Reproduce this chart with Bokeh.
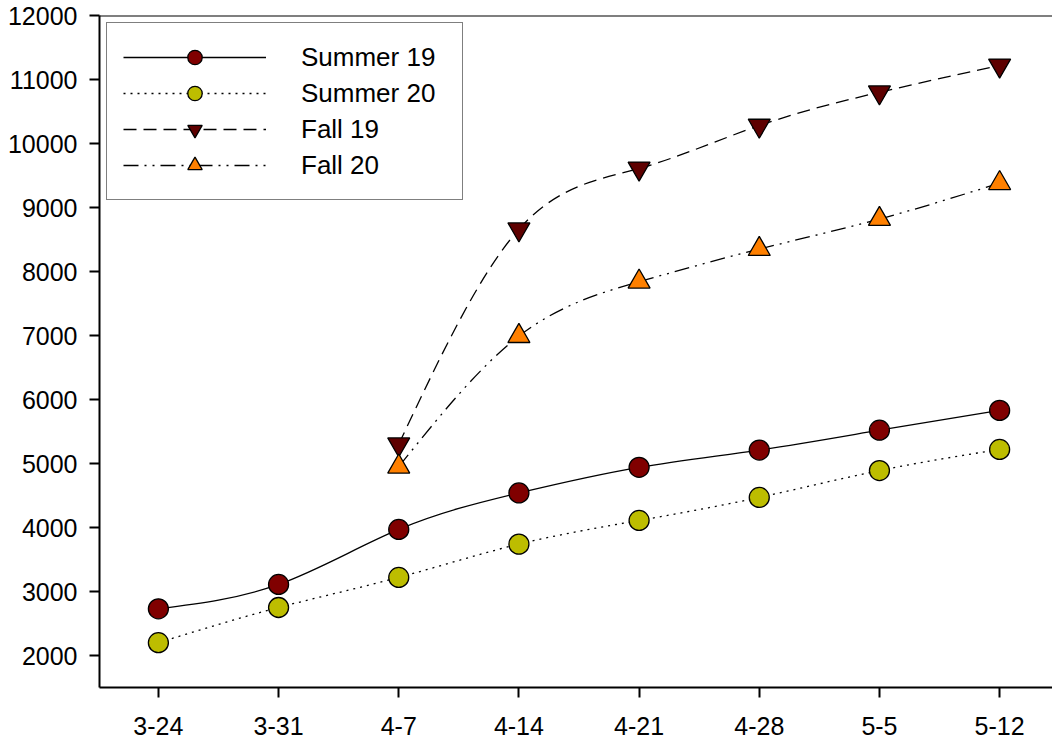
import numpy as np
from bokeh.plotting import figure
from bokeh.models import (FixedTicker, Span, Legend, LegendItem, Range1d, ColumnDataSource)
from bokeh.embed import file_html
from bokeh.resources import INLINE

# ---- data ----
categories = ["3-24", "3-31", "4-7", "4-14", "4-21", "4-28", "5-5", "5-12"]
summer19 = [2730, 3110, 3970, 4540, 4940, 5210, 5520, 5830]
summer20 = [2200, 2750, 3220, 3740, 4110, 4470, 4890, 5220]
fall19_cats = ["4-7", "4-14", "4-21", "4-28", "5-5", "5-12"]
fall19 = [5300, 8660, 9610, 10280, 10800, 11220]
fall20_cats = ["4-7", "4-14", "4-21", "4-28", "5-5", "5-12"]
fall20 = [4950, 6990, 7840, 8350, 8820, 9380]
y_ticks = list(range(2000, 12001, 1000))

FONT = "Liberation Sans"


def spline_beziers(xs, ys):
    """Natural cubic spline through the data, expressed as Bezier segments."""
    x = np.asarray(xs, float)
    y = np.asarray(ys, float)
    n = len(x) - 1
    h = np.diff(x)
    A = np.zeros((n + 1, n + 1))
    b = np.zeros(n + 1)
    A[0, 0] = 1
    A[n, n] = 1
    for i in range(1, n):
        A[i, i - 1] = h[i - 1]
        A[i, i] = 2 * (h[i - 1] + h[i])
        A[i, i + 1] = h[i]
        b[i] = 6 * ((y[i + 1] - y[i]) / h[i] - (y[i] - y[i - 1]) / h[i - 1])
    M = np.linalg.solve(A, b)
    m = np.zeros(n + 1)
    for i in range(n):
        m[i] = (y[i + 1] - y[i]) / h[i] - h[i] * (2 * M[i] + M[i + 1]) / 6
    m[n] = (y[n] - y[n - 1]) / h[n - 1] + h[n - 1] * (M[n - 1] + 2 * M[n]) / 6
    return dict(
        x0=x[:-1], y0=y[:-1], x1=x[1:], y1=y[1:],
        cx0=x[:-1] + h / 3, cy0=y[:-1] + m[:-1] * h / 3,
        cx1=x[1:] - h / 3, cy1=y[1:] - m[1:] * h / 3,
    )


idx = {c: i for i, c in enumerate(categories)}

p = figure(width=1052, height=740, output_backend="svg", toolbar_location=None,
           x_range=Range1d(-0.49, 7.44), y_range=Range1d(1500, 12000),
           min_border_left=99, min_border_right=0, min_border_top=15, min_border_bottom=53)
p.outline_line_color = None
p.xgrid.visible = False
p.ygrid.visible = False
p.background_fill_color = "white"

series = [
    ("Summer 19", [idx[c] for c in categories], summer19, "solid", "circle", "#800000", 20),
    ("Summer 20", [idx[c] for c in categories], summer20, "2 5", "circle", "#BDBD00", 20),
    ("Fall 19", [idx[c] for c in fall19_cats], fall19, "13 7", "inverted_triangle", "#5E0000", 22),
    ("Fall 20", [idx[c] for c in fall20_cats], fall20, "15 6 2 6 2 6", "triangle", "#FF8000", 22),
]

items = []
for name, xs, ys, dash, marker, color, size in series:
    src = ColumnDataSource(spline_beziers(xs, ys))
    bz = p.bezier(x0="x0", y0="y0", x1="x1", y1="y1", cx0="cx0", cy0="cy0",
                  cx1="cx1", cy1="cy1", source=src, line_color="black",
                  line_width=1.3, line_dash=dash)
    sc = p.scatter(xs, ys, marker=marker, size=size, fill_color=color,
                   line_color="black", line_width=1.3)
    items.append(LegendItem(label=name, renderers=[bz, sc]))

legend = Legend(items=items, location="top_left", margin=7,
                glyph_width=143, glyph_height=36, label_height=36, spacing=0,
                padding=16, label_standoff=35, label_width=145,
                label_text_font=FONT, label_text_font_size="26px",
                label_text_color="black",
                border_line_color="black", border_line_width=1.5,
                background_fill_alpha=1)
p.add_layout(legend, "center")

p.add_layout(Span(location=12000, dimension="width", line_color="black", line_width=2))

p.xaxis.ticker = FixedTicker(ticks=list(range(len(categories))))
p.xaxis.major_label_overrides = {i: c for i, c in enumerate(categories)}
p.yaxis.ticker = FixedTicker(ticks=y_ticks)
for ax in (p.xaxis[0], p.yaxis[0]):
    ax.axis_line_width = 2
    ax.axis_line_color = "black"
    ax.major_tick_line_width = 2
    ax.major_tick_line_color = "black"
    ax.major_tick_out = 10
    ax.major_tick_in = 0
    ax.minor_tick_line_color = None
    ax.major_label_text_font = FONT
    ax.major_label_text_font_size = "25px"
    ax.major_label_text_color = "black"
p.xaxis.major_label_standoff = 19
p.yaxis.major_label_standoff = 12

open("out.html", "w").write(file_html(p, INLINE))
